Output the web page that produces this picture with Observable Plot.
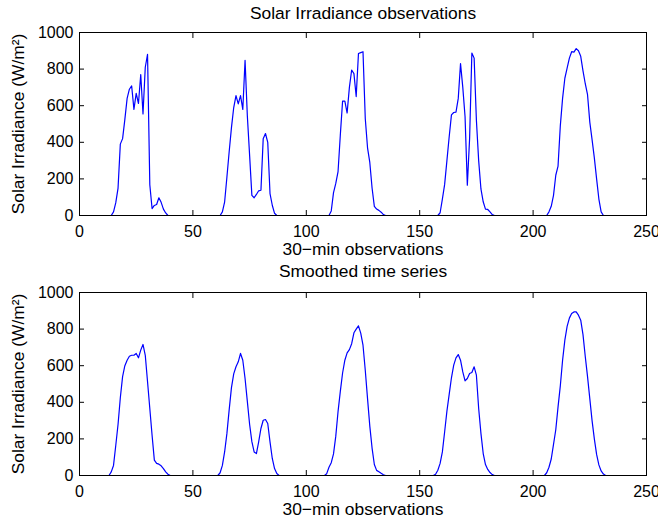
<!DOCTYPE html>
<html><head><meta charset="utf-8">
<script src="https://cdn.jsdelivr.net/npm/d3@7"></script>
<script src="https://cdn.jsdelivr.net/npm/@observablehq/plot@0.6"></script>
<style>
body{margin:0;background:#fff}
#chart{width:658px;height:523px}
svg{display:block}
</style>
</head><body><div id="chart"></div>
<script>
// 30-min observations, index 1..240
const observed = [
  0,0,0,0,0,0,0,0,0,0,0,0,
  0,0,20,70,150,390,420,525,640,690,708,580,
  667,612,770,555,810,880,168,38,55,60,97,72,
  35,14,0,0,0,0,0,0,0,0,0,0,
  0,0,0,0,0,0,0,0,0,0,0,0,
  0,0,20,75,210,350,480,590,655,610,655,580,
  848,545,330,110,97,115,135,138,420,448,400,120,
  56,12,0,0,0,0,0,0,0,0,0,0,
  0,0,0,0,0,0,0,0,0,0,0,0,
  0,0,25,125,175,240,440,625,625,560,700,795,
  775,650,885,890,895,530,370,290,150,50,35,28,
  18,5,0,0,0,0,0,0,0,0,0,0,
  0,0,0,0,0,0,0,0,0,0,0,0,
  0,0,15,90,170,300,430,550,563,565,640,830,
  700,540,166,420,888,860,520,300,145,75,35,33,
  20,5,0,0,0,0,0,0,0,0,0,0,
  0,0,0,0,0,0,0,0,0,0,0,0,
  0,0,20,50,110,220,270,490,640,750,805,860,
  895,893,912,900,870,790,720,660,510,415,315,200,
  90,20,0,0,0,0,0,0,0,0,0,0
];
const smoothed = [
  0,0,0,0,0,0,0,0,0,0,0,0,
  0,20,55,165,280,425,540,600,630,652,657,657,
  667,643,685,716,657,512,366,220,84,66,62,53,
  38,20,7,0,0,0,0,0,0,0,0,0,
  0,0,0,0,0,0,0,0,0,0,0,0,
  0,15,55,130,230,360,480,555,594,621,667,630,
  530,405,280,185,129,120,184,257,302,306,284,184,
  93,38,11,0,0,0,0,0,0,0,0,0,
  0,0,0,0,0,0,0,0,0,0,0,0,
  10,45,70,118,215,350,460,560,630,670,688,720,
  780,800,818,778,712,575,420,270,150,60,28,21,
  12,4,0,0,0,0,0,0,0,0,0,0,
  0,0,0,0,0,0,0,0,0,0,0,0,
  7,29,66,129,239,352,443,534,603,643,661,630,
  566,517,530,557,563,594,548,366,230,120,60,33,
  16,5,0,0,0,0,0,0,0,0,0,0,
  0,0,0,0,0,0,0,0,0,0,0,0,
  0,15,45,90,170,250,375,490,630,740,815,860,
  885,894,894,876,849,770,650,540,420,300,200,115,
  58,25,8,0,0,0,0,0,0,0,0,0
];
const xTicks = [0, 50, 100, 150, 200, 250];
const yTicks = [0, 200, 400, 600, 800, 1000];
const titles = ["Solar Irradiance observations", "Smoothed time series"];
const xLabel = "30\u2212min observations";
const yLabel = "Solar Irradiance (W/m\u00B2)";

const FONT = "'Liberation Sans', Arial, Helvetica, sans-serif";

function panel(values, title, h, mt, mb, titleDy) {
  const data = values.map((v, i) => ({t: i + 1, v}));
  return Plot.plot({
    width: 658, height: h,
    marginLeft: 79, marginRight: 12, marginTop: mt, marginBottom: mb,
    style: {fontFamily: FONT, fontSize: "16px", background: "white", color: "black"},
    x: {domain: [0, 250]},
    y: {domain: [0, 1000]},
    marks: [
      Plot.line(data, {x: "t", y: "v", stroke: "#0000ff", strokeWidth: 1.2}),
      Plot.frame({stroke: "black", strokeWidth: 1}),
      Plot.axisX(xTicks, {anchor: "bottom", tickSize: -5, tickPadding: 15, label: null, fontSize: 16, tickFormat: d => String(d)}),
      Plot.axisX(xTicks, {anchor: "top", tickSize: -5, tickFormat: () => "", label: null}),
      Plot.axisY(yTicks, {anchor: "left", tickSize: -5, tickPadding: 11, label: null, fontSize: 16, tickFormat: d => String(d)}),
      Plot.axisY(yTicks, {anchor: "right", tickSize: -5, tickFormat: () => "", label: null}),
      Plot.text([title], {text: d => d, frameAnchor: "top", dy: titleDy, fontSize: 17.4, textAnchor: "middle", lineAnchor: "middle"}),
      Plot.text([xLabel], {text: d => d, frameAnchor: "bottom", dy: 34, fontSize: 17.4, textAnchor: "middle", lineAnchor: "middle"}),
      Plot.text([yLabel], {text: d => d, frameAnchor: "left", rotate: -90, dx: -61, fontSize: 17.4, textAnchor: "middle", lineAnchor: "middle"})
    ]
  });
}

const chart = document.getElementById("chart");
chart.append(panel(observed, titles[0], 262, 32, 47, -19));
chart.append(panel(smoothed, titles[1], 261, 30, 48, -21));
</script>
</body></html>
